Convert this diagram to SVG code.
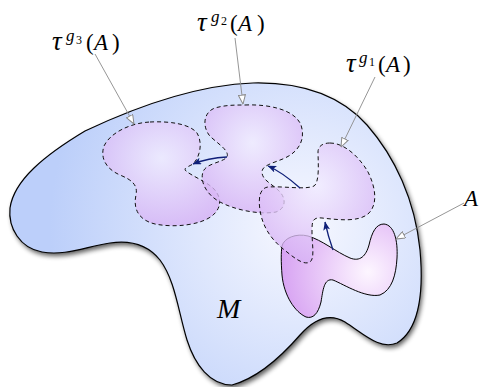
<svg xmlns="http://www.w3.org/2000/svg" width="480" height="387" viewBox="0 0 480 387">
<defs>
<style>
.lbl{font-family:"Liberation Serif","DejaVu Serif",serif;font-size:23px;fill:#000}
.it{font-style:italic}
.tu{font-style:italic;font-size:27px}
.sup{font-size:17px;font-style:italic}
.sub{font-size:12px}
.tau{stroke:#111;stroke-width:1;stroke-dasharray:4 3;fill:url(#gT)}
.lead{stroke:#8a8a8a;stroke-width:0.9;fill:none;marker-end:url(#open)}
.blue{stroke:#0f1f78;stroke-width:1.3;fill:none;marker-end:url(#solid)}
</style>
<radialGradient id="gM" gradientUnits="userSpaceOnUse" cx="300" cy="225" r="250">
<stop offset="0" stop-color="#f7f8ff"/>
<stop offset="1" stop-color="#bccffa"/>
</radialGradient>
<radialGradient id="gA" gradientUnits="userSpaceOnUse" cx="368" cy="272" r="90">
<stop offset="0" stop-color="#fdf6ff"/>
<stop offset="1" stop-color="#d6a0f2"/>
</radialGradient>
<radialGradient id="gT" cx="0.5" cy="0.35" r="0.7">
<stop offset="0" stop-color="#f2ecff" stop-opacity="0.78"/>
<stop offset="1" stop-color="#d5aef4" stop-opacity="0.78"/>
</radialGradient>
<filter id="sh" x="-10%" y="-10%" width="130%" height="130%">
<feGaussianBlur stdDeviation="2.5"/>
</filter>
<marker id="open" viewBox="0 0 10 8" refX="9.5" refY="4" markerWidth="10" markerHeight="8" markerUnits="userSpaceOnUse" orient="auto">
<path d="M0.5,0.5 L9.5,4 L0.5,7.5 z" fill="#fff" stroke="#8a8a8a" stroke-width="1"/>
</marker>
<marker id="solid" viewBox="0 0 10 8" refX="9.5" refY="4" markerWidth="9" markerHeight="7" markerUnits="userSpaceOnUse" orient="auto">
<path d="M0,0 L10,4 L0,8 L2.5,4 z" fill="#0f1f78"/>
</marker>
</defs>

<g id="M">
<path d="M 253,83 C 300,82 340,95 367,125 C 395,157 415,200 420,250 C 424,295 418,330 397,343 C 380,350 365,335 345,322 C 330,313 315,318 300,335 C 280,358 258,378 232,385 C 210,385 195,365 187,340 C 178,310 175,280 160,260 C 148,245 130,240 110,243 C 85,247 65,256 42,252 C 20,248 8,228 10,208 C 14,180 45,155 85,131 C 140,105 200,85 253,83 Z" fill="#000" opacity="0.65" transform="translate(2,3)" filter="url(#sh)"/>
<path d="M 253,83 C 300,82 340,95 367,125 C 395,157 415,200 420,250 C 424,295 418,330 397,343 C 380,350 365,335 345,322 C 330,313 315,318 300,335 C 280,358 258,378 232,385 C 210,385 195,365 187,340 C 178,310 175,280 160,260 C 148,245 130,240 110,243 C 85,247 65,256 42,252 C 20,248 8,228 10,208 C 14,180 45,155 85,131 C 140,105 200,85 253,83 Z" fill="url(#gM)" stroke="#000" stroke-width="1.2"/>
<text class="lbl it" x="217" y="318" style="font-size:28px">M</text>
</g>

<g id="A">
<path d="M 282,246 C 284,238 296,233 308,236 C 322,240 336,252 350,258 C 360,262 366,256 369,245 C 372,232 376,224 384,224 C 394,225 398,240 397,258 C 396,275 392,290 380,295 C 365,298 345,285 333,280 C 324,278 323,290 321,302 C 318,314 313,319 306,317 C 295,312 284,296 282,275 C 281,262 281,252 282,246 Z" fill="url(#gA)" stroke="#000" stroke-width="1"/>
</g>

<g id="tau3">
<path class="tau" d="M 150,122 C 170,121 190,124 197,133 C 203,143 200,157 193,164 C 188,167 183,168 186,171 C 192,176 205,181 213,188 C 222,197 222,208 212,216 C 200,225 175,228 155,224 C 138,220 133,208 136,195 C 138,185 132,180 120,175 C 106,169 100,158 104,146 C 110,133 130,123 150,122 Z"/>
</g>

<g id="tau2">
<path class="tau" d="M 245,105 C 270,104 295,110 301,125 C 306,140 298,152 285,158 C 274,163 262,165 262,172 C 262,180 272,184 278,190 C 286,197 287,208 276,212 C 260,215 235,210 220,202 C 205,194 200,180 203,172 C 206,163 222,163 227,157 C 230,150 215,142 209,135 C 202,125 204,112 215,108 C 225,105 235,105 245,105 Z"/>
</g>

<g id="tau1">
<path class="tau" d="M 330,143 C 345,143 360,158 368,172 C 376,188 378,205 368,214 C 358,222 340,220 322,218 C 312,217 312,222 312,232 C 312,245 315,258 310,262 C 303,266 292,256 282,248 C 270,238 262,225 260,210 C 258,198 260,188 268,187 C 285,186 305,190 314,186 C 320,182 318,160 318,152 C 318,146 323,143 330,143 Z"/>
</g>

<g id="connectors">
<path class="blue" d="M 227,157 Q 208,158 193,164"/>
<path class="blue" d="M 300,188 Q 282,172 268,166"/>
<path class="blue" d="M 333,250 Q 328,236 325,222"/>
<path class="lead" d="M 95,54 L 134,124"/>
<path class="lead" d="M 235,38 L 243,104"/>
<path class="lead" d="M 375,77 L 341,147"/>
<path class="lead" d="M 464,203 L 396,239"/>
</g>

<g id="labels">
<text class="lbl"><tspan class="tu" x="52" y="50">τ</tspan><tspan class="sup" x="66" y="41">g</tspan><tspan class="sub" x="76" y="44">3</tspan><tspan x="86" y="50">(</tspan><tspan class="it" x="94" y="50">A</tspan><tspan x="112" y="50">)</tspan></text>
<text class="lbl"><tspan class="tu" x="197" y="31">τ</tspan><tspan class="sup" x="211" y="22">g</tspan><tspan class="sub" x="221" y="25">2</tspan><tspan x="230" y="31">(</tspan><tspan class="it" x="238" y="31">A</tspan><tspan x="257" y="31">)</tspan></text>
<text class="lbl"><tspan class="tu" x="346" y="72">τ</tspan><tspan class="sup" x="359" y="63">g</tspan><tspan class="sub" x="369" y="66">1</tspan><tspan x="378" y="72">(</tspan><tspan class="it" x="386" y="72">A</tspan><tspan x="403" y="72">)</tspan></text>
<text class="lbl it" x="464" y="206">A</text>
</g>
</svg>
